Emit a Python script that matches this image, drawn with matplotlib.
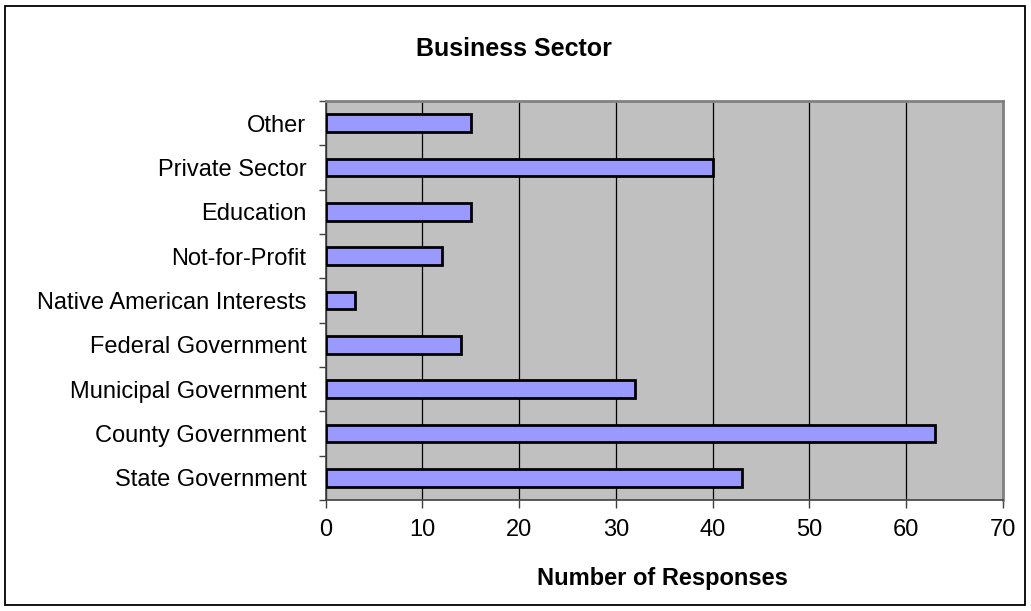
import matplotlib
matplotlib.use("Agg")
import matplotlib.pyplot as plt
from matplotlib.patches import Rectangle
import numpy as np

plt.rcParams['font.family'] = ['Liberation Sans', 'DejaVu Sans']

categories = ["State Government", "County Government", "Municipal Government",
              "Federal Government", "Native American Interests", "Not-for-Profit",
              "Education", "Private Sector", "Other"]
responses = [43, 63, 32, 14, 3, 12, 15, 40, 15]
x_ticks = [0, 10, 20, 30, 40, 50, 60, 70]

fig = plt.figure(figsize=(10.31, 6.11), dpi=100)
ax = fig.add_axes([0.316, 0.1817, 0.9725 - 0.316, 0.8347 - 0.1817])

ax.set_facecolor('#C0C0C0')
y = np.arange(len(categories))
ax.barh(y, responses, height=0.4, color='#9999FF', edgecolor='black',
        linewidth=2.0, zorder=3)

ax.set_xlim(0, 70)
ax.set_ylim(-0.5, len(categories) - 0.5)
ax.set_xticks(x_ticks)
ax.set_xticklabels([str(t) for t in x_ticks], fontsize=17)
ax.xaxis.grid(True, color='black', linewidth=0.9, zorder=1)
ax.set_axisbelow(True)

ax.set_yticks(np.arange(-0.5, len(categories), 1.0))
ax.set_yticklabels([])
ax.set_yticks(y, minor=True)
ax.set_yticklabels(categories, minor=True, fontsize=17)
ax.tick_params(axis='y', which='major', direction='out', length=5, width=1, color='#404040')
ax.tick_params(axis='y', which='minor', length=0, pad=14)
ax.tick_params(axis='x', which='major', direction='out', length=6, width=1,
               color='#404040', pad=8)

for s in ['top', 'right']:
    ax.spines[s].set_color('#808080')
    ax.spines[s].set_linewidth(2)
for s in ['left', 'bottom']:
    ax.spines[s].set_color('#404040')
    ax.spines[s].set_linewidth(1.2)

fig.text(0.498, 0.919, "Business Sector", fontsize=18, fontweight='bold',
         ha='center', va='center')
fig.text(0.643, 0.054, "Number of Responses", fontsize=17, fontweight='bold',
         ha='center', va='center')
fig.patches.append(Rectangle((5/1031, 1 - 605/611), 1020/1031, 599/611,
                             transform=fig.transFigure, fill=False,
                             edgecolor='black', linewidth=1.3))

fig.savefig("out.png", dpi=100)
